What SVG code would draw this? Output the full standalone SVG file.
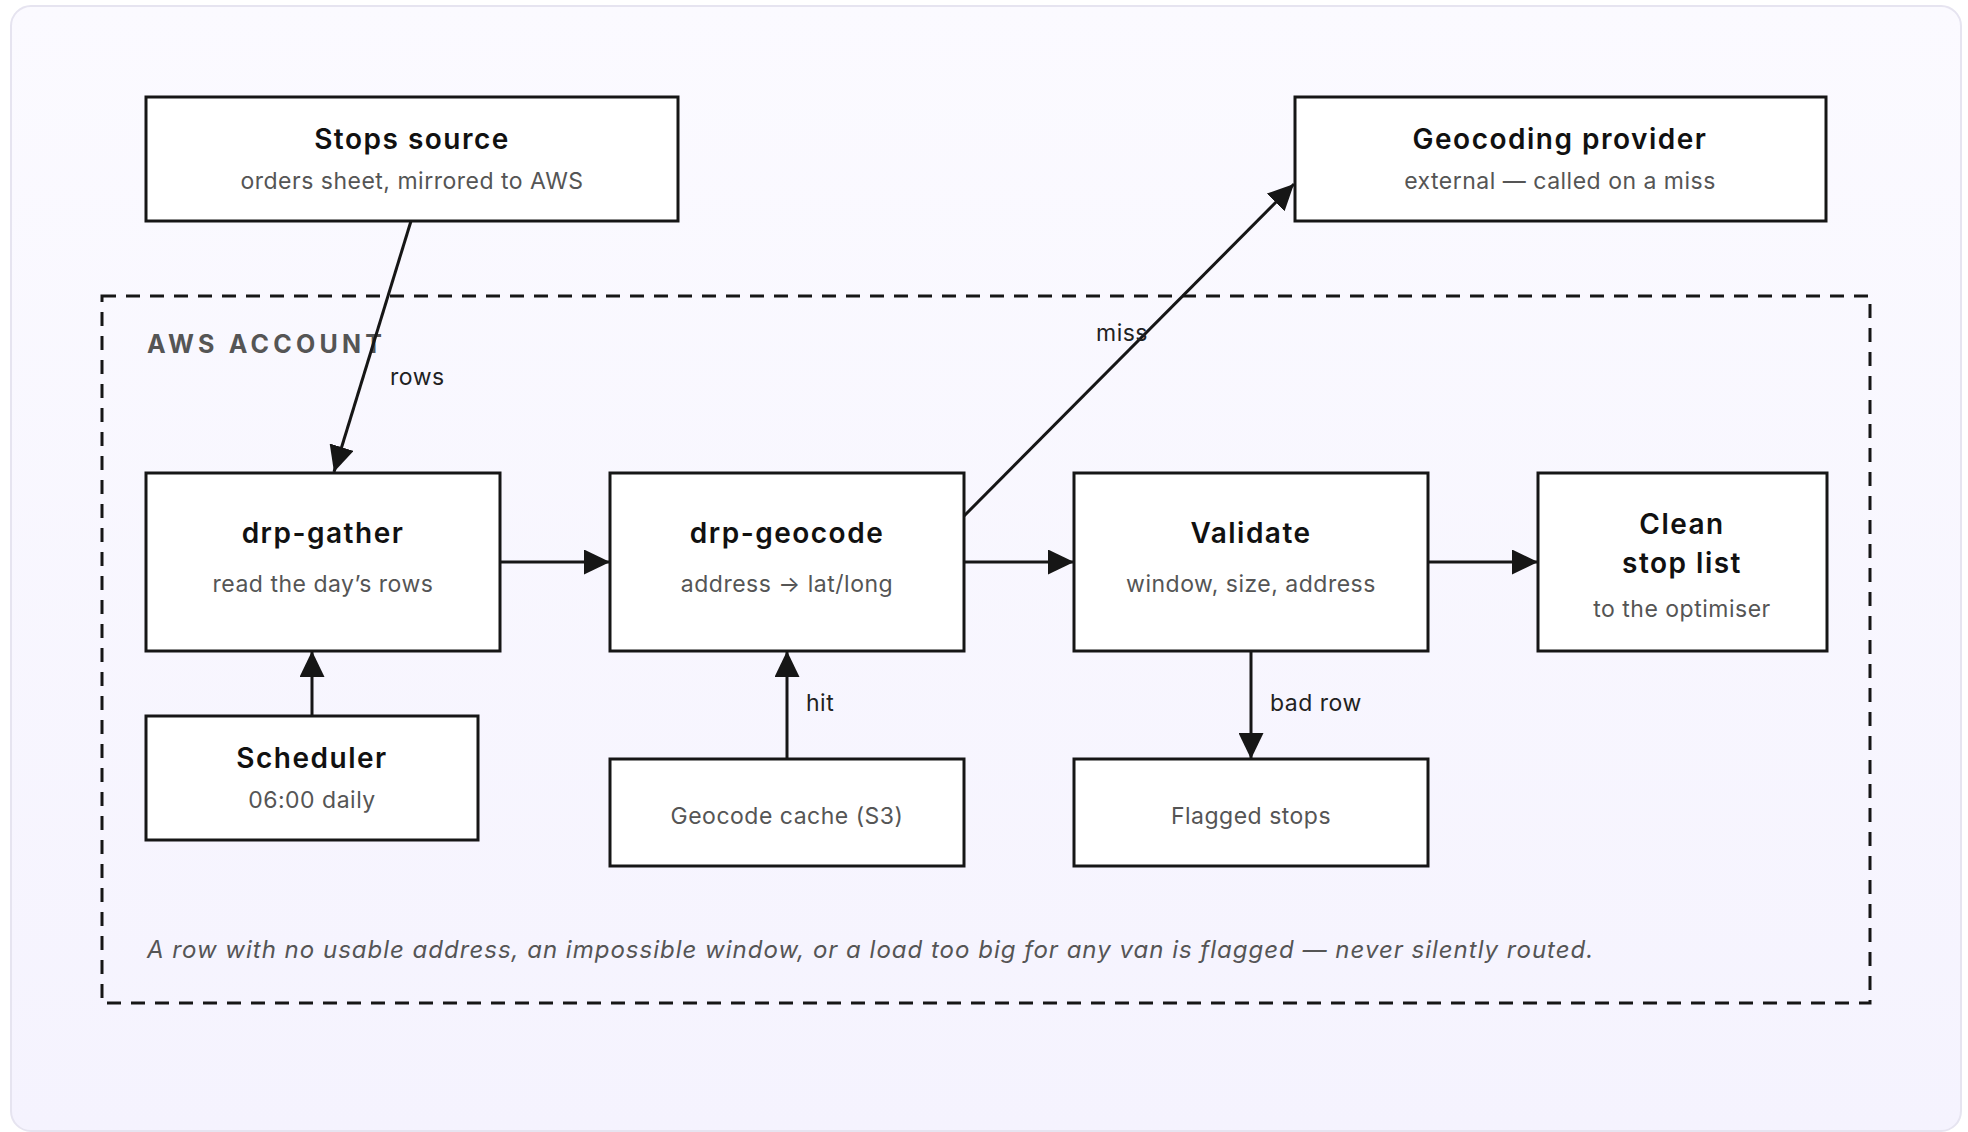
<svg xmlns="http://www.w3.org/2000/svg" width="1968" height="1132" viewBox="0 0 1968 1132">
  <style>
    .node rect { fill: #ffffff; stroke: #161616; stroke-width: 3; }
    .title { font-family: Inter, "Liberation Sans", sans-serif; font-size: 28px; font-weight: 600; fill: #111111; text-anchor: middle; letter-spacing: 1.5px; }
    .sub { font-family: Inter, "Liberation Sans", sans-serif; font-size: 23px; fill: #555555; text-anchor: middle; letter-spacing: 0.5px; }
    .edge { stroke: #161616; stroke-width: 3; fill: none; }
    .elabel { font-family: Inter, "Liberation Sans", sans-serif; font-size: 23px; fill: #222222; letter-spacing: 0.5px; }
    .group-label { font-family: Inter, "Liberation Sans", sans-serif; font-size: 25px; font-weight: 700; fill: #555555; letter-spacing: 4.2px; }
    .note { font-family: Inter, "Liberation Sans", sans-serif; font-size: 24px; font-style: italic; fill: #555555; letter-spacing: 1px; }
  </style>
  <defs>
    <marker id="arrow" markerUnits="userSpaceOnUse" markerWidth="26" markerHeight="25" refX="26" refY="12.5" orient="auto">
      <path d="M0,0 L26,12.5 L0,25 z" fill="#161616"/>
    </marker>
    <linearGradient id="panelFill" x1="0" y1="0" x2="0" y2="1">
      <stop offset="0" stop-color="#fbfaff"/>
      <stop offset="1" stop-color="#f5f3fe"/>
    </linearGradient>
  </defs>

  <rect x="11" y="6" width="1950" height="1125" rx="20" fill="url(#panelFill)" stroke="#e6e4f0" stroke-width="2"/>

  <g id="aws-account">
    <rect x="102" y="296" width="1768" height="707" fill="none" stroke="#161616" stroke-width="3" stroke-dasharray="14 10"/>
    <text class="group-label" x="147" y="353">AWS ACCOUNT</text>
  </g>

  <g id="stops-source" class="node">
    <rect x="146" y="97" width="532" height="124"/>
    <text class="title" x="412" y="149">Stops source</text>
    <text class="sub" x="412" y="189">orders sheet, mirrored to AWS</text>
  </g>

  <g id="geocoding-provider" class="node">
    <rect x="1295" y="97" width="531" height="124"/>
    <text class="title" x="1560" y="149">Geocoding provider</text>
    <text class="sub" x="1560" y="189">external — called on a miss</text>
  </g>

  <g id="drp-gather" class="node">
    <rect x="146" y="473" width="354" height="178"/>
    <text class="title" x="323" y="543">drp-gather</text>
    <text class="sub" x="323" y="592">read the day’s rows</text>
  </g>

  <g id="drp-geocode" class="node">
    <rect x="610" y="473" width="354" height="178"/>
    <text class="title" x="787" y="543">drp-geocode</text>
    <text class="sub" x="787" y="592">address → lat/long</text>
  </g>

  <g id="validate" class="node">
    <rect x="1074" y="473" width="354" height="178"/>
    <text class="title" x="1251" y="543">Validate</text>
    <text class="sub" x="1251" y="592">window, size, address</text>
  </g>

  <g id="clean-stop-list" class="node">
    <rect x="1538" y="473" width="289" height="178"/>
    <text class="title" x="1682" y="534">Clean</text>
    <text class="title" x="1682" y="573">stop list</text>
    <text class="sub" x="1682" y="617">to the optimiser</text>
  </g>

  <g id="scheduler" class="node">
    <rect x="146" y="716" width="332" height="124"/>
    <text class="title" x="312" y="768">Scheduler</text>
    <text class="sub" x="312" y="808">06:00 daily</text>
  </g>

  <g id="geocode-cache" class="node">
    <rect x="610" y="759" width="354" height="107"/>
    <text class="sub" x="787" y="824">Geocode cache (S3)</text>
  </g>

  <g id="flagged-stops" class="node">
    <rect x="1074" y="759" width="354" height="107"/>
    <text class="sub" x="1251" y="824">Flagged stops</text>
  </g>

  <g id="connectors">
    <line class="edge" x1="411" y1="221" x2="334" y2="472" marker-end="url(#arrow)"/>
    <text class="elabel" x="390" y="385">rows</text>

    <line class="edge" x1="964" y1="516" x2="1294" y2="184" marker-end="url(#arrow)"/>
    <text class="elabel" x="1096" y="341">miss</text>

    <line class="edge" x1="500" y1="562" x2="610" y2="562" marker-end="url(#arrow)"/>
    <line class="edge" x1="964" y1="562" x2="1074" y2="562" marker-end="url(#arrow)"/>
    <line class="edge" x1="1428" y1="562" x2="1538" y2="562" marker-end="url(#arrow)"/>

    <line class="edge" x1="312" y1="716" x2="312" y2="651" marker-end="url(#arrow)"/>

    <line class="edge" x1="787" y1="759" x2="787" y2="651" marker-end="url(#arrow)"/>
    <text class="elabel" x="806" y="711">hit</text>

    <line class="edge" x1="1251" y1="651" x2="1251" y2="759" marker-end="url(#arrow)"/>
    <text class="elabel" x="1270" y="711">bad row</text>
  </g>

  <text class="note" x="147" y="958">A row with no usable address, an impossible window, or a load too big for any van is flagged — never silently routed.</text>
</svg>
